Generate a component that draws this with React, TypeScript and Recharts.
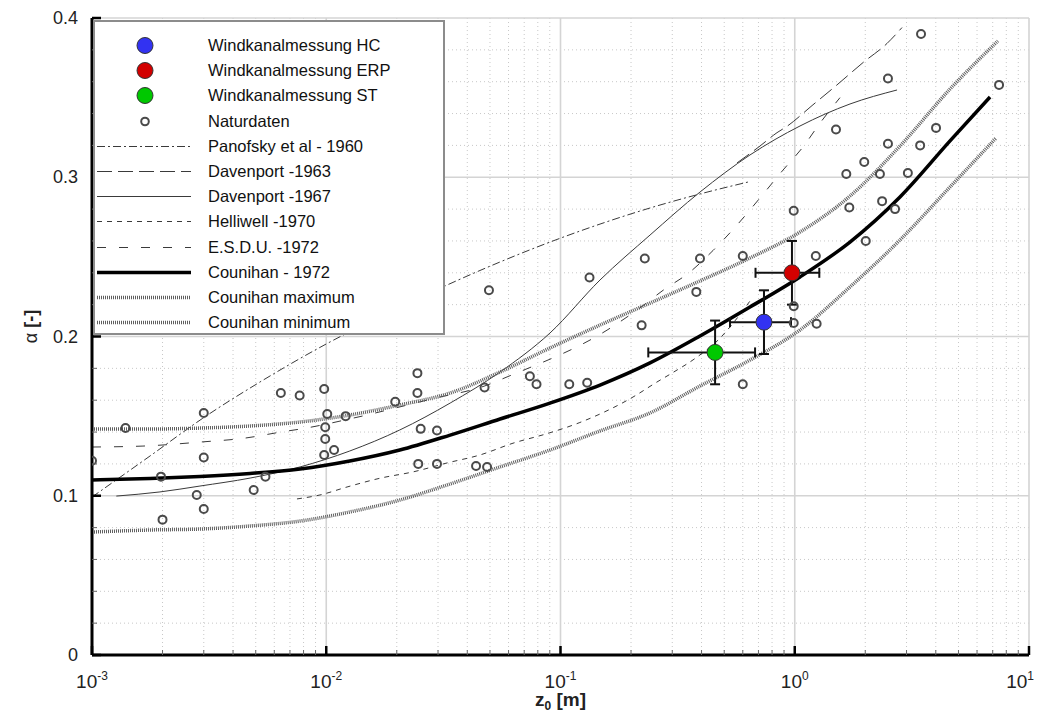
import React from 'react';
import { ComposedChart, Line, Scatter, XAxis, YAxis, CartesianGrid, ErrorBar, Legend } from 'recharts';

// axis ticks
const xMajor = [0.001, 0.01, 0.1, 1, 10];
const xMinor = [
  0.002, 0.003, 0.004, 0.005, 0.006, 0.007, 0.008, 0.009,
  0.02, 0.03, 0.04, 0.05, 0.06, 0.07, 0.08, 0.09,
  0.2, 0.3, 0.4, 0.5, 0.6, 0.7, 0.8, 0.9,
  2, 3, 4, 5, 6, 7, 8, 9,
];
const yMajor = [0, 0.1, 0.2, 0.3, 0.4];
const yMinor = [0.02, 0.04, 0.06, 0.08, 0.12, 0.14, 0.16, 0.18, 0.22, 0.24, 0.26, 0.28, 0.32, 0.34, 0.36, 0.38];
const yLabels = ['0', '0.1', '0.2', '0.3', '0.4'];

// wind tunnel measurements (ex/ey = error bar low/high)
const windHC = [{ x: 0.739, y: 0.209, ex: [0.21, 0.225], ey: 0.02 }];
const windERP = [{ x: 0.973, y: 0.24, ex: [0.293, 0.3], ey: 0.02 }];
const windST = [{ x: 0.457, y: 0.19, ex: [0.22, 0.22], ey: 0.02 }];

// field data
const natur = [
  { x: 0.001, y: 0.122 }, { x: 0.00139, y: 0.1425 }, { x: 0.00197, y: 0.112 }, { x: 0.002, y: 0.085 },
  { x: 0.003, y: 0.152 }, { x: 0.003, y: 0.124 }, { x: 0.0028, y: 0.1005 }, { x: 0.003, y: 0.0917 },
  { x: 0.0049, y: 0.1036 }, { x: 0.0055, y: 0.112 }, { x: 0.0064, y: 0.1645 }, { x: 0.0077, y: 0.163 },
  { x: 0.0098, y: 0.167 }, { x: 0.0101, y: 0.1513 }, { x: 0.0099, y: 0.143 }, { x: 0.0099, y: 0.1356 },
  { x: 0.0098, y: 0.1256 }, { x: 0.0108, y: 0.1287 }, { x: 0.0121, y: 0.15 }, { x: 0.0197, y: 0.159 },
  { x: 0.0245, y: 0.177 }, { x: 0.0245, y: 0.1645 }, { x: 0.0253, y: 0.142 }, { x: 0.0247, y: 0.12 },
  { x: 0.0297, y: 0.141 }, { x: 0.0297, y: 0.12 }, { x: 0.0436, y: 0.1187 }, { x: 0.0486, y: 0.118 },
  { x: 0.0474, y: 0.168 }, { x: 0.0495, y: 0.229 }, { x: 0.074, y: 0.175 }, { x: 0.079, y: 0.17 },
  { x: 0.109, y: 0.17 }, { x: 0.13, y: 0.171 }, { x: 0.133, y: 0.237 }, { x: 0.222, y: 0.207 },
  { x: 0.229, y: 0.249 }, { x: 0.38, y: 0.228 }, { x: 0.394, y: 0.249 }, { x: 0.6, y: 0.2505 },
  { x: 0.6, y: 0.17 }, { x: 0.99, y: 0.279 }, { x: 0.99, y: 0.219 }, { x: 0.99, y: 0.2085 },
  { x: 1.23, y: 0.2505 }, { x: 1.24, y: 0.208 }, { x: 1.5, y: 0.33 }, { x: 1.66, y: 0.302 },
  { x: 1.71, y: 0.281 }, { x: 1.98, y: 0.3096 }, { x: 2.01, y: 0.26 }, { x: 2.31, y: 0.302 },
  { x: 2.36, y: 0.285 }, { x: 2.5, y: 0.362 }, { x: 2.5, y: 0.321 }, { x: 2.68, y: 0.28 },
  { x: 3.04, y: 0.3027 }, { x: 3.43, y: 0.32 }, { x: 3.46, y: 0.39 }, { x: 4.01, y: 0.331 },
  { x: 7.45, y: 0.358 },
];

// literature relations
const panofsky = [
  { x: 0.001, y: 0.0992 }, { x: 0.00177, y: 0.125 }, { x: 0.00298, y: 0.1488 }, { x: 0.00521, y: 0.1714 },
  { x: 0.01, y: 0.1953 }, { x: 0.0187, y: 0.2154 }, { x: 0.0321, y: 0.2317 }, { x: 0.0552, y: 0.2468 },
  { x: 0.0902, y: 0.2593 }, { x: 0.1475, y: 0.2706 }, { x: 0.2411, y: 0.2807 }, { x: 0.394, y: 0.2895 },
  { x: 0.632, y: 0.297 },
];
const davenport63 = [
  { x: 0.567, y: 0.309 }, { x: 0.7105, y: 0.3196 }, { x: 0.84, y: 0.328 }, { x: 0.927, y: 0.332 },
  { x: 1.185, y: 0.345 }, { x: 1.515, y: 0.358 }, { x: 1.956, y: 0.372 }, { x: 2.476, y: 0.384 },
  { x: 2.87, y: 0.394 },
];
const davenport67 = [
  { x: 0.00127, y: 0.0998 }, { x: 0.00195, y: 0.1024 }, { x: 0.00289, y: 0.1061 }, { x: 0.00473, y: 0.1111 },
  { x: 0.00773, y: 0.1181 }, { x: 0.0126, y: 0.1281 }, { x: 0.0206, y: 0.1413 }, { x: 0.0338, y: 0.1582 },
  { x: 0.0552, y: 0.1777 }, { x: 0.0902, y: 0.2022 }, { x: 0.1475, y: 0.2355 }, { x: 0.2411, y: 0.2637 },
  { x: 0.394, y: 0.2907 }, { x: 0.644, y: 0.314 }, { x: 1.053, y: 0.3322 }, { x: 1.721, y: 0.346 },
  { x: 2.733, y: 0.3548 },
];
const helliwell = [
  { x: 0.0075, y: 0.098 }, { x: 0.0094, y: 0.1005 }, { x: 0.01227, y: 0.1055 }, { x: 0.01696, y: 0.111 },
  { x: 0.0235, y: 0.115 }, { x: 0.0328, y: 0.1206 }, { x: 0.0453, y: 0.1256 }, { x: 0.0627, y: 0.133 },
  { x: 0.0876, y: 0.139 }, { x: 0.121, y: 0.146 }, { x: 0.204, y: 0.162 }, { x: 0.258, y: 0.1714 },
  { x: 0.299, y: 0.177 }, { x: 0.382, y: 0.187 }, { x: 0.48, y: 0.199 }, { x: 0.529, y: 0.206 },
  { x: 0.657, y: 0.224 },
];
const esdu = [
  { x: 0.001, y: 0.1306 }, { x: 0.00165, y: 0.1312 }, { x: 0.00289, y: 0.1337 }, { x: 0.0045, y: 0.1362 },
  { x: 0.0064, y: 0.14 }, { x: 0.0082, y: 0.1425 }, { x: 0.01327, y: 0.149 }, { x: 0.02856, y: 0.161 },
  { x: 0.0476, y: 0.169 }, { x: 0.0591, y: 0.1746 }, { x: 0.158, y: 0.204 }, { x: 0.2185, y: 0.218 },
  { x: 0.274, y: 0.229 }, { x: 0.357, y: 0.2405 }, { x: 0.4478, y: 0.254 }, { x: 0.567, y: 0.27 },
  { x: 0.7105, y: 0.287 }, { x: 0.891, y: 0.3045 }, { x: 1.084, y: 0.319 }, { x: 1.282, y: 0.334 },
  { x: 1.56, y: 0.35 },
];
const counihan = [
  { x: 0.001, y: 0.1099 }, { x: 0.00177, y: 0.1108 }, { x: 0.00289, y: 0.1121 }, { x: 0.00473, y: 0.114 },
  { x: 0.00773, y: 0.1168 }, { x: 0.0126, y: 0.1218 }, { x: 0.0206, y: 0.1287 }, { x: 0.0338, y: 0.1381 },
  { x: 0.0552, y: 0.1482 }, { x: 0.0902, y: 0.1582 }, { x: 0.1475, y: 0.1695 }, { x: 0.2411, y: 0.1834 },
  { x: 0.394, y: 0.2003 }, { x: 0.644, y: 0.2185 }, { x: 1.053, y: 0.2374 }, { x: 1.721, y: 0.2593 },
  { x: 2.814, y: 0.2876 }, { x: 4.601, y: 0.3228 }, { x: 6.82, y: 0.3504 },
];
const counihanMax = [
  { x: 0.001, y: 0.1419 }, { x: 0.00177, y: 0.1419 }, { x: 0.00289, y: 0.1425 }, { x: 0.00473, y: 0.1438 },
  { x: 0.00773, y: 0.1463 }, { x: 0.0126, y: 0.1507 }, { x: 0.0206, y: 0.157 }, { x: 0.0338, y: 0.1645 },
  { x: 0.0552, y: 0.1777 }, { x: 0.0902, y: 0.1928 }, { x: 0.1475, y: 0.2072 }, { x: 0.2411, y: 0.221 },
  { x: 0.394, y: 0.2349 }, { x: 0.644, y: 0.2493 }, { x: 1.053, y: 0.2656 }, { x: 1.721, y: 0.2882 },
  { x: 2.814, y: 0.3196 }, { x: 4.601, y: 0.3554 }, { x: 7.37, y: 0.3856 },
];
const counihanMin = [
  { x: 0.001, y: 0.0772 }, { x: 0.00177, y: 0.0785 }, { x: 0.00289, y: 0.0791 }, { x: 0.00473, y: 0.081 },
  { x: 0.00773, y: 0.0841 }, { x: 0.0126, y: 0.0898 }, { x: 0.0206, y: 0.0973 }, { x: 0.0338, y: 0.1074 },
  { x: 0.0552, y: 0.1181 }, { x: 0.0902, y: 0.1287 }, { x: 0.1475, y: 0.1407 }, { x: 0.2411, y: 0.152 },
  { x: 0.394, y: 0.1689 }, { x: 0.644, y: 0.1852 }, { x: 1.053, y: 0.2041 }, { x: 1.721, y: 0.2311 },
  { x: 2.814, y: 0.2606 }, { x: 4.601, y: 0.2939 }, { x: 7.23, y: 0.3246 },
];

const FONT = "'Liberation Sans', Arial, sans-serif";
const THIN = '#3a3a3a';
const BAND = { stroke: '#5e5e5e', width: 3.5, dash: '1 1' };

const lineStyles: Record<string, { stroke: string; width: number; dash?: string }> = {
  panofsky: { stroke: THIN, width: 1, dash: '8 3 2 3' },
  davenport63: { stroke: THIN, width: 1, dash: '15 6' },
  davenport67: { stroke: THIN, width: 1 },
  helliwell: { stroke: THIN, width: 1, dash: '5 5' },
  esdu: { stroke: THIN, width: 1, dash: '9 13' },
  counihan: { stroke: '#000', width: 3.5 },
  counihanMax: BAND,
  counihanMin: BAND,
};

const dotColors = { hc: '#3232f2', erp: '#d20000', st: '#00c800' };

const legendItems = [
  { name: 'Windkanalmessung HC', dot: dotColors.hc },
  { name: 'Windkanalmessung ERP', dot: dotColors.erp },
  { name: 'Windkanalmessung ST', dot: dotColors.st },
  { name: 'Naturdaten', ring: true },
  { name: 'Panofsky et al - 1960', line: 'panofsky' },
  { name: 'Davenport -1963', line: 'davenport63' },
  { name: 'Davenport -1967', line: 'davenport67' },
  { name: 'Helliwell -1970', line: 'helliwell' },
  { name: 'E.S.D.U. -1972', line: 'esdu' },
  { name: 'Counihan - 1972', line: 'counihan' },
  { name: 'Counihan maximum', line: 'counihanMax' },
  { name: 'Counihan minimum', line: 'counihanMin' },
];

const XTick = (props: any) => {
  const { x, y, payload } = props;
  const v = payload.value;
  const major = xMajor.includes(v);
  const exp = Math.round(Math.log10(v));
  const last = v === xMajor[xMajor.length - 1];
  return (
    <g>
      <line x1={x} y1={y} x2={x} y2={y - (major ? 9 : 5)} stroke={major ? '#000' : '#666'} strokeWidth={major ? 2.5 : 1} />
      {major && (
        <text x={last ? x + 5 : x} y={y + 33} textAnchor={last ? 'end' : 'middle'} fontSize={19} fill="#222" fontFamily={FONT}>
          <tspan>10</tspan>
          <tspan dy={-8} fontSize={12}>{`${exp}`}</tspan>
        </text>
      )}
    </g>
  );
};

const YTick = (props: any) => {
  const { x, y, payload } = props;
  const v = payload.value;
  const idx = yMajor.indexOf(v);
  const major = idx >= 0;
  return (
    <g>
      <line x1={x} y1={y} x2={x + (major ? 9 : 5)} y2={y} stroke={major ? '#000' : '#666'} strokeWidth={major ? 2.5 : 1} />
      {major && (
        <text x={x - 14} y={y} dy={6} textAnchor="end" fontSize={18} fill="#222" fontFamily={FONT}>
          {yLabels[idx]}
        </text>
      )}
    </g>
  );
};

const YTitle = (props: any) => {
  const vb = props.viewBox || { x: 0, y: 10, width: 84, height: 637 };
  const cx = vb.x + 29;
  const cy = vb.y + vb.height / 2 - 10;
  return (
    <text x={cx} y={cy} transform={`rotate(-90 ${cx} ${cy})`} textAnchor="middle" fontSize={18} fill="#222" fontFamily={FONT}>
      <tspan>α</tspan>
      <tspan fontWeight="bold"> [-]</tspan>
    </text>
  );
};

const XTitle = (props: any) => {
  const vb = props.viewBox || { x: 84, y: 647, width: 937, height: 61 };
  const cx = vb.x + vb.width / 2;
  const cy = vb.y + 51;
  return (
    <text x={cx} y={cy} textAnchor="middle" fontSize={19} fontWeight="bold" fill="#222" fontFamily={FONT}>
      <tspan>z</tspan>
      <tspan dy={4} fontSize={12}>0</tspan>
      <tspan dy={-4}> [m]</tspan>
    </text>
  );
};

const LegendBox = () => (
  <div
    style={{
      width: 352, height: 315, boxSizing: 'border-box', background: '#fff',
      border: '2px solid #8c8c8c', paddingTop: 11, fontFamily: FONT,
    }}
  >
    {legendItems.map((it) => {
      const st = it.line ? lineStyles[it.line] : null;
      return (
        <div key={it.name} style={{ display: 'flex', alignItems: 'center', height: 25.2 }}>
          <svg width={113} height={25} style={{ flex: 'none' }}>
            {it.dot && <circle cx={50} cy={12.5} r={8} fill={it.dot} stroke="#333" strokeWidth={1} />}
            {it.ring && <circle cx={50} cy={12.5} r={3.8} fill="none" stroke="#4a4a4a" strokeWidth={2} />}
            {st && (
              <line x1={2} y1={12.5} x2={96} y2={12.5} stroke={st.stroke} strokeWidth={st.width} strokeDasharray={st.dash} />
            )}
          </svg>
          <span style={{ fontSize: 16.5, color: '#111', whiteSpace: 'nowrap' }}>{it.name}</span>
        </div>
      );
    })}
  </div>
);

const NaturShape = (p: any) => <circle cx={p.cx} cy={p.cy} r={4} fill="none" stroke="#4a4a4a" strokeWidth={2} />;
const dotShape = (color: string) => (p: any) => <circle cx={p.cx} cy={p.cy} r={8} fill={color} stroke="#333" strokeWidth={1} />;
const NoShape = () => <g />;

const series: [string, { x: number; y: number }[]][] = [
  ['panofsky', panofsky],
  ['davenport63', davenport63],
  ['davenport67', davenport67],
  ['helliwell', helliwell],
  ['esdu', esdu],
  ['counihanMax', counihanMax],
  ['counihanMin', counihanMin],
  ['counihan', counihan],
];

export default function App() {
  return (
    <div style={{ width: 1038, height: 708, fontFamily: FONT }}>
      <ComposedChart width={1038} height={708} margin={{ top: 10, right: 17, bottom: 0, left: 0 }}>
        <CartesianGrid horizontalValues={yMinor} verticalValues={xMinor} stroke="#c8c8c8" strokeDasharray="1 3" />
        <CartesianGrid horizontalValues={[0.1, 0.2, 0.3, 0.4]} verticalValues={[0.01, 0.1, 1, 10]} stroke="#d4d4d4" strokeWidth={1.6} />
        <XAxis
          type="number" dataKey="x" scale="log" domain={[0.001, 10]} allowDataOverflow
          ticks={[...xMajor, ...xMinor]} interval={0} tickSize={0} tickMargin={0}
          tick={<XTick />} axisLine={{ stroke: '#000', strokeWidth: 3 }} height={61}
          label={<XTitle />}
        />
        <YAxis
          type="number" dataKey="y" domain={[0, 0.4]} allowDataOverflow
          ticks={[...yMajor, ...yMinor]} interval={0} tickSize={0} tickMargin={0}
          tick={<YTick />} axisLine={{ stroke: '#000', strokeWidth: 3 }} width={84}
          label={<YTitle />}
        />
        {series.map(([key, d]) => {
          const st = lineStyles[key];
          return (
            <Line
              key={key} data={d} dataKey="y" type="monotone" stroke={st.stroke} strokeWidth={st.width}
              strokeDasharray={st.dash} dot={false} activeDot={false} isAnimationActive={false}
            />
          );
        })}
        <Scatter data={natur} shape={NaturShape} isAnimationActive={false} />
        <Scatter data={windST} shape={dotShape(dotColors.st)} isAnimationActive={false} />
        <Scatter data={windHC} shape={dotShape(dotColors.hc)} isAnimationActive={false} />
        <Scatter data={windERP} shape={dotShape(dotColors.erp)} isAnimationActive={false} />
        <Scatter data={[...windST, ...windHC, ...windERP]} shape={NoShape} isAnimationActive={false}>
          <ErrorBar dataKey="ex" direction="x" width={5} stroke="#111" strokeWidth={2} />
          <ErrorBar dataKey="ey" direction="y" width={5} stroke="#111" strokeWidth={2} />
        </Scatter>
        <Legend
          layout="vertical" align="center" verticalAlign="middle"
          wrapperStyle={{ position: 'absolute', left: 85, top: 12, width: 352 }}
          content={() => <LegendBox />}
        />
      </ComposedChart>
    </div>
  );
}
